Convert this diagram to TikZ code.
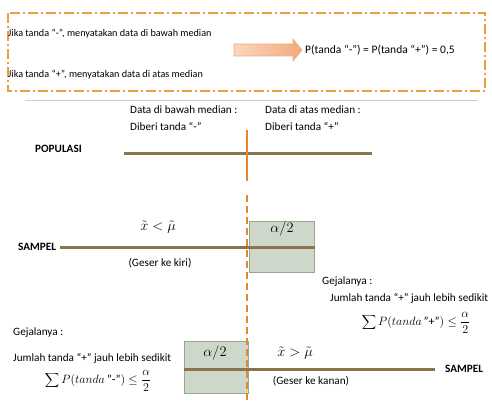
\documentclass[tikz,border=0pt]{standalone}
\usepackage{fontspec}
\setmainfont{Carlito}
\usetikzlibrary{shadings}
\definecolor{frameor}{RGB}{232,160,62}
\definecolor{vor}{RGB}{228,135,45}
\definecolor{brownl}{RGB}{140,117,78}
\definecolor{gfill}{RGB}{206,216,202}
\definecolor{gdraw}{RGB}{150,168,145}
\definecolor{arrowl}{RGB}{250,214,190}
\definecolor{arrowr}{RGB}{242,170,125}
\definecolor{grayline}{RGB}{205,205,205}
\tikzset{
  toptxt/.style={inner sep=0pt, anchor=west, font=\fontsize{10.2}{12}\selectfont},
  txt/.style={inner sep=0pt, anchor=west, font=\fontsize{11.2}{13}\selectfont},
  ctxt/.style={inner sep=0pt, font=\fontsize{11.2}{13}\selectfont},
  bold/.style={inner sep=0pt, anchor=west, font=\fontsize{11.2}{13}\selectfont\bfseries},
  mth/.style={inner sep=0pt, font=\fontsize{14}{16}\selectfont},
  fml/.style={inner sep=0pt, font=\fontsize{12}{14}\selectfont},
  brownline/.style={draw=brownl, line width=3pt},
  gbox/.style={draw=gdraw, fill=gfill, line width=1pt, inner sep=0pt, anchor=north west},
  medline/.style={draw=vor, line width=1.8pt},
  frame/.style={draw=frameor, line width=1.5pt, dash pattern=on 10pt off 3pt on 2pt off 3pt},
}
\begin{document}
\begin{tikzpicture}[x=1pt,y=-1pt]
\useasboundingbox (0,0) rectangle (492,403);
% top frame
\draw[frame] (8,13) rectangle (485,91);
\node[toptxt] (j1) at (8,34) {Jika tanda “-”, menyatakan data di bawah median};
\node[toptxt] (j2) at (8,75) {Jika tanda “+”, menyatakan data di atas median};
\shade[left color=arrowl, right color=arrowr, draw=arrowr, line width=0.6pt]
  (234,44) -- (293,44) -- (293,39) -- (302,50) -- (293,61) -- (293,56) -- (234,56) -- cycle;
\node[inner sep=0pt, anchor=west, font=\fontsize{11.5}{13}\selectfont] (pr) at (305,50) {P(tanda “-”) = P(tanda “+”) = 0,5};
% separator
\draw[grayline, line width=1pt] (25,101) -- (478,101);
% populasi
\node[txt] (db) at (130,110) {Data di bawah median :};
\node[txt] (da) at (265,110) {Data di atas median :};
\node[txt] (tm) at (130,127) {Diberi tanda “-”};
\node[txt] (tp) at (265,127) {Diberi tanda “+”};
\node[bold] (pop) at (35,149) {POPULASI};
\coordinate (pl) at (124,154);
\coordinate (pr2) at (372,154);
\draw[brownline] (pl) -- (pr2);
% median line
\coordinate (m1) at (247,130);
\coordinate (m2) at (247,181);
\coordinate (m3) at (247,195);
\coordinate (m4) at (247,403);
% upper sample
\node[gbox, minimum width=65pt, minimum height=51pt] (b1) at (249,221) {};
\node[mth] (a1) at (282,229) {$\alpha/2$};
\node[bold] (s1) at (18,247) {SAMPEL};
\coordinate (s1e) at (315,247);
\draw[brownline] (s1.east) ++(4,0) -- (s1e);
\node[mth] (c1) at (158,227) {$\tilde{x} < \tilde{\mu}$};
\node[ctxt] (g1) at (160,263) {(Geser ke kiri)};
\node[txt] (gj1) at (322,282) {Gejalanya :};
\node[txt] (jm1) at (330,298) {Jumlah tanda “+” jauh lebih sedikit};
\node[fml] (f1) at (416,323) {$\displaystyle\sum P(tanda\,\mbox{"+"}) \le \frac{\alpha}{2}$};
% lower sample
\node[gbox, minimum width=64pt, minimum height=52pt] (b2) at (184,341) {};
\node[mth] (a2) at (215,353) {$\alpha/2$};
\node[bold] (s2) at (445,369) {SAMPEL};
\coordinate (s2b) at (184,369);
\draw[brownline] (s2b) -- ([xshift=-10pt]s2.west);
\node[mth] (c2) at (295,353) {$\tilde{x} > \tilde{\mu}$};
\node[ctxt] (g2) at (311,381) {(Geser ke kanan)};
\node[txt] (gj2) at (13,333) {Gejalanya :};
\node[txt] (jm2) at (13,358) {Jumlah tanda “+” jauh lebih sedikit};
\node[fml] (f2) at (98,381) {$\displaystyle\sum P(tanda\,\mbox{"-"}) \le \frac{\alpha}{2}$};
% median line on top
\draw[medline] (m1) -- (m2);
\draw[medline, dash pattern=on 7pt off 4pt] (m3) -- (m4);
\end{tikzpicture}
\end{document}
